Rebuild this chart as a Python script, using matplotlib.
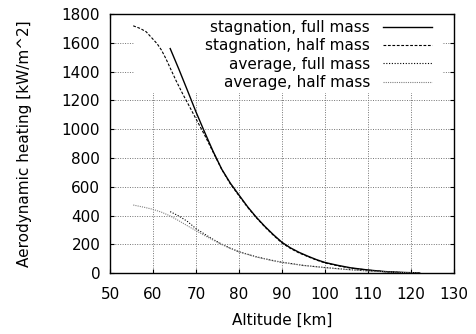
import matplotlib
matplotlib.use("Agg")
import matplotlib.pyplot as plt
from matplotlib.patches import Rectangle

plt.rcParams['font.family'] = ['DejaVu Sans']
plt.rcParams['font.size'] = 11

# stagnation point heating, full mass
alt_sf = [64, 66, 68, 70, 72, 74, 76, 78, 80, 82, 84, 86, 88, 90, 92, 94, 96, 98,
          100, 103, 106, 110, 114, 118, 122]
q_sf = [1560, 1418, 1270, 1120, 980, 845, 722, 625, 543, 462, 390, 326, 268, 215,
        176, 145, 119, 95, 75, 55, 38, 23, 12, 6, 3]

# stagnation point heating, half mass
alt_sh = [55.4, 57, 58.4, 60, 61, 62, 63, 64, 65.4, 67, 68, 70, 72, 74, 76, 78, 80,
          82, 84, 86, 88, 90, 92, 94, 96, 98, 100, 103, 106, 110, 114, 118, 122]
q_sh = [1718, 1700, 1677, 1625, 1592, 1548, 1490, 1425, 1335, 1240, 1185, 1072, 960,
        840, 720, 620, 538, 458, 387, 322, 264, 210, 172, 141, 116, 92, 72, 52, 36,
        22, 11, 5, 3]

# average heating, full mass
alt_af = [64, 66, 68, 70, 72, 74, 76, 78, 80, 84, 88, 90, 95, 100, 105, 110, 115,
          120, 122]
q_af = [428, 398, 360, 310, 272, 235, 202, 174, 150, 115, 88, 77, 55, 40, 27, 17,
        9, 4, 3]

# average heating, half mass
alt_ah = [55.4, 58, 60, 62, 64, 66, 68, 70, 72, 74, 76, 78, 80, 84, 88, 90, 95,
          100, 105, 110, 115, 120, 122]
q_ah = [474, 458, 444, 424, 398, 365, 330, 296, 262, 230, 200, 172, 148, 113, 86,
        75, 54, 39, 26, 16, 9, 4, 3]

xticks = list(range(50, 131, 10))
yticks = list(range(0, 1801, 200))

fig = plt.figure(figsize=(4.77, 3.34), dpi=100)
ax = fig.add_axes([110 / 477, 1 - 273.3 / 334, 344 / 477, 259.3 / 334])

ax.plot(alt_sf, q_sf, color='black', lw=1.0, label='stagnation, full mass', zorder=3)
ax.plot(alt_sh, q_sh, color='black', lw=0.8, dashes=(2.5, 1.5),
        label='stagnation, half mass', zorder=3)
ax.plot(alt_af, q_af, color='black', lw=0.8, dashes=(1, 1.5),
        label='average, full mass', zorder=3)
ax.plot(alt_ah, q_ah, color='0.5', lw=0.8, dashes=(1, 1),
        label='average, half mass', zorder=3)

ax.set_xlim(50, 130)
ax.set_ylim(0, 1800)
ax.set_xticks(xticks)
ax.set_yticks(yticks)
ax.set_axisbelow(True)
ax.grid(True, color='0.45', linestyle=(0, (1, 1.5)), lw=0.7)
ax.tick_params(direction='in', length=3, top=True, right=True, labelsize=11)
ax.tick_params(axis='x', pad=10)
ax.tick_params(axis='y', pad=7)
for s in ax.spines.values():
    s.set_linewidth(1.0)

# white key area hides the grid (gnuplot style)
ax.add_patch(Rectangle(((134 - 110) / 344, (273.3 - 93) / 259.3),
                       (442 - 134) / 344, 1 - (273.3 - 93) / 259.3,
                       transform=ax.transAxes, facecolor='white',
                       edgecolor='none', zorder=1.5))

leg = ax.legend(loc='upper right', bbox_to_anchor=((432 - 110) / 344, (273.3 - 20) / 259.3),
                frameon=False, markerfirst=False, handlelength=3.2,
                handletextpad=0.85, labelspacing=0.22, borderaxespad=0, borderpad=0,
                fontsize=11)
for t in leg.get_texts():
    t.set_ha('right')
leg._legend_box.align = 'right'
leg.set_zorder(5)

ax.set_xlabel('Altitude [km]', fontsize=11)
ax.set_ylabel('Aerodynamic heating [kW/m^2]', fontsize=11)
ax.xaxis.set_label_coords(0.5, (273.3 - 320) / 259.3)
ax.yaxis.set_label_coords((25 - 110) / 344, 0.5)
ax.xaxis.label.set_va('center')
ax.yaxis.label.set_va('center')

fig.savefig('out.png', dpi=100)
